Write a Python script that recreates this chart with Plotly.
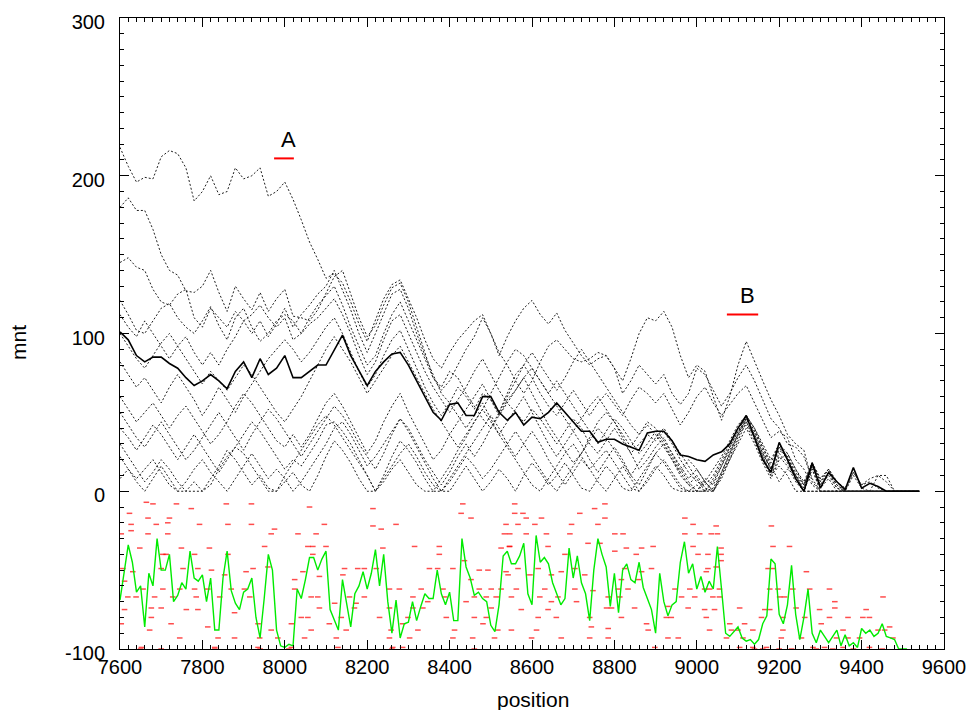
import plotly.graph_objects as go

# ---------------- data ----------------
positions = list(range(7600, 9541, 20))

mnt_1 = [218, 206, 196, 199, 198, 212, 216, 214, 205, 184,
         190, 200, 188, 190, 205, 198, 200, 205, 187, 190,
         196, 185, 172, 158, 147, 135, 138, 132, 120, 106,
         95, 108, 122, 131, 134, 122, 110, 96, 84, 78,
         88, 96, 102, 108, 112, 100, 86, 98, 108, 116,
         121, 112, 106, 113, 102, 94, 86, 80, 84, 86,
         78, 70, 84, 100, 110, 108, 114, 104, 86, 72,
         80, 76, 60, 45, 60, 80, 95, 82, 70, 58,
         48, 36, 30, 26, 6, 0, 0, 0, 0, 0,
         0, 0, 0, 0, 0, 0, 0, 0]
mnt_2 = [180, 186, 178, 178, 166, 150, 140, 137, 127, 126,
         130, 140, 126, 114, 130, 122, 115, 126, 114, 122,
         128, 111, 110, 108, 115, 126, 136, 140, 125, 110,
         98, 105, 118, 129, 132, 120, 104, 88, 72, 64,
         70, 80, 90, 98, 110, 100, 88, 80, 70, 62,
         70, 82, 92, 96, 90, 84, 82, 84, 88, 86,
         78, 62, 70, 80, 74, 68, 74, 62, 55, 62,
         78, 74, 64, 54, 62, 72, 80, 70, 58, 46,
         40, 30, 28, 22, 8, 0, 0, 0, 0, 0,
         0, 0, 0, 0, 0, 0, 0, 0]
mnt_3 = [145, 148, 142, 140, 128, 120, 118, 125, 128, 110,
         104, 116, 110, 104, 114, 108, 100, 108, 98, 106,
         116, 104, 112, 118, 125, 130, 140, 128, 115, 100,
         88, 100, 112, 125, 128, 116, 100, 86, 74, 62,
         56, 66, 60, 52, 62, 58, 50, 62, 74, 80,
         72, 62, 54, 48, 56, 64, 56, 48, 56, 62,
         55, 48, 58, 66, 62, 56, 62, 52, 42, 50,
         60, 66, 56, 48, 55, 62, 67, 56, 44, 34,
         38, 34, 20, 14, 4, 0, 0, 0, 0, 0,
         0, 0, 0, 0, 0, 0, 0, 0]
mnt_4 = [121, 112, 102, 100, 108, 116, 119, 110, 104, 100,
         108, 117, 105, 96, 110, 116, 104, 95, 100, 108,
         112, 108, 100, 106, 110, 116, 122, 112, 100, 86,
         74, 82, 96, 108, 112, 100, 88, 76, 66, 58,
         50, 58, 66, 76, 84, 74, 64, 56, 50, 44,
         52, 46, 38, 30, 38, 46, 40, 30, 24, 32,
         40, 32, 24, 30, 36, 32, 38, 30, 20, 12,
         6, 4, 10, 20, 30, 40, 46, 36, 24, 14,
         26, 22, 10, 4, 16, 4, 10, 2, 0, 0,
         0, 0, 0, 0, 0, 0, 0, 0]
mnt_5 = [112, 104, 98, 108, 100, 92, 84, 92, 98, 88,
         80, 88, 80, 90, 98, 108, 112, 118, 110, 104,
         110, 96, 100, 110, 118, 124, 130, 118, 104, 92,
         80, 86, 100, 112, 120, 108, 96, 84, 72, 66,
         76, 72, 62, 54, 46, 40, 48, 58, 64, 72,
         62, 52, 42, 34, 26, 18, 24, 34, 44, 50,
         44, 34, 24, 14, 20, 28, 34, 24, 14, 6,
         0, 8, 4, 16, 28, 38, 48, 38, 26, 14,
         28, 20, 10, 2, 18, 6, 12, 4, 0, 0,
         0, 0, 0, 0, 0, 0, 0, 0]
mnt_6 = [82, 74, 66, 72, 64, 56, 66, 74, 66, 58,
         48, 56, 66, 58, 50, 60, 68, 76, 84, 90,
         96, 90, 82, 88, 96, 104, 110, 100, 88, 76,
         66, 74, 86, 96, 102, 90, 78, 66, 56, 48,
         56, 48, 40, 48, 56, 46, 36, 44, 52, 60,
         50, 40, 30, 22, 30, 38, 30, 20, 12, 20,
         28, 20, 10, 4, 14, 24, 30, 22, 12, 4,
         0, 0, 8, 18, 28, 38, 44, 34, 22, 12,
         24, 18, 8, 0, 14, 2, 8, 0, 0, 0,
         0, 0, 0, 0, 0, 0, 0, 0]
mnt_7 = [60, 52, 44, 50, 56, 48, 40, 48, 54, 46,
         38, 30, 36, 44, 54, 62, 56, 48, 40, 32,
         28, 36, 28, 36, 46, 56, 62, 54, 44, 34,
         24, 32, 44, 54, 62, 50, 40, 30, 20, 26,
         36, 44, 52, 60, 68, 58, 48, 56, 64, 72,
         78, 70, 62, 54, 46, 38, 46, 54, 60, 52,
         44, 36, 28, 36, 44, 40, 32, 24, 16, 8,
         14, 6, 0, 10, 22, 34, 46, 38, 28, 18,
         30, 20, 10, 0, 16, 4, 12, 2, 0, 0,
         0, 0, 0, 0, 0, 0, 0, 0]
mnt_8 = [50, 42, 34, 28, 36, 44, 36, 28, 20, 26,
         34, 42, 50, 42, 34, 26, 36, 44, 52, 46,
         38, 30, 22, 30, 38, 46, 54, 48, 40, 30,
         22, 14, 24, 36, 46, 40, 30, 20, 12, 4,
         12, 22, 30, 22, 30, 40, 50, 60, 70, 80,
         88, 80, 72, 64, 72, 82, 90, 82, 74, 66,
         58, 50, 42, 36, 42, 36, 28, 20, 12, 20,
         14, 6, 0, 12, 24, 36, 46, 36, 24, 14,
         28, 22, 12, 4, 18, 6, 14, 6, 2, 12,
         4, 8, 10, 6, 0, 0, 0, 0]
mnt_9 = [40, 34, 26, 34, 42, 36, 28, 20, 28, 36,
         28, 20, 12, 20, 28, 36, 44, 38, 30, 22,
         14, 20, 16, 24, 32, 42, 44, 38, 30, 20,
         10, 0, 10, 22, 32, 26, 18, 8, 0, 0,
         8, 16, 24, 32, 40, 48, 40, 30, 22, 30,
         38, 30, 20, 12, 4, 12, 20, 14, 6, 0,
         8, 16, 8, 0, 6, 14, 20, 12, 4, 0,
         4, 0, 6, 16, 26, 36, 42, 32, 20, 10,
         22, 16, 6, 0, 14, 0, 0, 0, 0, 0,
         0, 0, 0, 0, 0, 0, 0, 0]
mnt_10 = [22, 14, 8, 14, 20, 12, 4, 0, 6, 14,
          20, 12, 6, 0, 8, 16, 24, 16, 8, 14,
          8, 0, 6, 14, 22, 30, 40, 44, 36, 26,
          16, 22, 30, 38, 46, 38, 28, 18, 8, 0,
          6, 14, 22, 16, 8, 14, 22, 30, 38, 30,
          22, 14, 6, 0, 8, 16, 24, 32, 40, 34,
          26, 18, 10, 18, 26, 34, 40, 32, 24, 16,
          8, 0, 0, 10, 20, 30, 40, 30, 18, 8,
          20, 24, 14, 4, 18, 8, 14, 4, 0, 10,
          2, 0, 10, 10, 0, 0, 0, 0]
mnt_11 = [8, 14, 6, 0, 8, 16, 8, 0, 0, 6,
          0, 8, 16, 26, 20, 12, 4, 10, 2, 0,
          10, 18, 26, 34, 42, 48, 42, 34, 26, 18,
          10, 0, 8, 16, 24, 30, 22, 12, 4, 0,
          0, 8, 16, 8, 0, 6, 14, 8, 0, 10,
          18, 12, 4, 10, 18, 10, 2, 0, 8, 16,
          10, 2, 0, 8, 16, 24, 18, 10, 2, 0,
          0, 6, 14, 22, 32, 42, 48, 40, 28, 16,
          6, 14, 10, 0, 0, 0, 0, 0, 0, 0,
          0, 0, 0, 0, 0, 0, 0, 0]
mnt_12 = [100, 92, 84, 78, 86, 94, 100, 92, 84, 76,
          68, 76, 70, 64, 72, 80, 74, 66, 58, 50,
          44, 52, 60, 70, 80, 90, 98, 90, 82, 72,
          62, 70, 78, 86, 92, 82, 72, 62, 52, 44,
          36, 28, 36, 44, 52, 62, 72, 82, 90, 86,
          78, 70, 62, 70, 62, 54, 46, 38, 30, 38,
          46, 40, 32, 24, 30, 38, 30, 20, 10, 4,
          10, 2, 0, 8, 20, 32, 44, 34, 22, 10,
          16, 10, 0, 0, 0, 0, 0, 0, 0, 0,
          0, 0, 0, 0, 0, 0, 0, 0]
mnt_13 = [30, 22, 14, 6, 12, 20, 14, 6, 0, 0,
          0, 4, 14, 22, 28, 24, 16, 8, 0, 0,
          6, 12, 4, 0, 10, 22, 32, 26, 18, 8,
          0, 0, 6, 14, 20, 12, 4, 0, 0, 8,
          16, 26, 34, 44, 52, 44, 36, 28, 20, 12,
          4, 0, 8, 16, 24, 30, 22, 14, 20, 26,
          18, 10, 2, 0, 8, 16, 10, 2, 0, 0,
          0, 0, 2, 12, 24, 36, 48, 40, 30, 20,
          30, 24, 14, 6, 18, 8, 14, 6, 0, 12,
          4, 6, 2, 0, 0, 0, 0, 0]

mnt_mean = [101, 96, 86, 82, 85, 85, 81, 78, 72, 67,
            70, 74, 70, 65, 76, 82, 72, 84, 74, 78,
            86, 72, 72, 76, 80, 80, 90, 99, 86, 76,
            67, 76, 82, 87, 88, 80, 70, 60, 50, 45,
            55, 56, 48, 48, 60, 60, 50, 45, 50, 42,
            47, 46, 50, 56, 50, 44, 38, 38, 31, 33,
            33, 30, 28, 26, 37, 38, 38, 32, 23, 22,
            20, 19, 23, 25, 30, 40, 48, 34, 20, 12,
            31, 20, 8, 0, 18, 2, 12, 6, 1, 15,
            2, 5, 3, 0, 0, 0, 0, 0]

green_pos = list(range(7600, 9511, 10))
green_val = [-69, -52, -34, -45, -64, -60, -86, -52, -60, -30,
             -50, -50, -40, -70, -66, -58, -62, -38, -55, -57,
             -53, -70, -55, -88, -88, -55, -38, -63, -71, -75,
             -64, -62, -55, -80, -93, -68, -40, -50, -88, -98,
             -99, -97, -98, -62, -68, -56, -42, -42, -50, -43,
             -38, -75, -81, -88, -56, -72, -86, -65, -60, -51,
             -62, -52, -37, -60, -40, -70, -90, -69, -93, -84,
             -83, -70, -82, -73, -65, -68, -68, -50, -65, -72,
             -64, -82, -82, -30, -48, -55, -66, -64, -68, -70,
             -85, -89, -72, -41, -38, -46, -46, -41, -33, -65,
             -72, -28, -45, -42, -46, -58, -65, -72, -68, -36,
             -55, -41, -58, -65, -82, -50, -30, -40, -48, -73,
             -52, -77, -50, -46, -56, -58, -45, -61, -68, -75,
             -90, -52, -70, -79, -72, -70, -45, -32, -52, -46,
             -62, -54, -64, -57, -62, -35, -62, -90, -92, -89,
             -86, -93, -95, -94, -97, -94, -84, -79, -43, -46,
             -78, -84, -72, -47, -78, -94, -80, -62, -90, -96,
             -88, -92, -96, -92, -88, -98, -91, -98, -96, -99,
             -87, -90, -88, -92, -90, -84, -92, -93, -94, -100,
             -100, -100]

red_pos = [7664, 7680, 7737, 7773, 7858, 7919, 8060, 7623, 7668, 7627,
           7688, 7720, 7716, 7793, 7862, 7919, 7975, 7603, 7627, 7668,
           7716, 7967, 8032, 7648, 7704, 7712, 7749, 7781, 7817, 7862,
           7951, 8056, 8068, 7607, 7631, 7700, 7753, 7789, 7822, 7854,
           7906, 7923, 7959, 8024, 8044, 7611, 7656, 7704, 7745, 7781,
           7813, 7870, 7902, 7619, 7639, 7684, 7728, 7785, 7842, 7915,
           8024, 8064, 7611, 7676, 7700, 7761, 7789, 7878, 8040, 8056,
           7603, 7676, 7724, 7813, 7935, 7967, 8016, 8064, 7672, 7745,
           7838, 7878, 7939, 7983, 8048, 7652, 7830, 7935, 8016,
           8214, 8432, 8428, 8452, 8096, 8214, 8270, 8537, 8234, 8076,
           8533, 8100, 8238, 8315, 8375, 8525, 8545, 8068, 8375, 8436,
           8145, 8177, 8193, 8222, 8351, 8371, 8408, 8472, 8493, 8537,
           8084, 8141, 8452, 8254, 8278, 8331, 8384, 8472, 8501, 8525,
           8080, 8157, 8193, 8311, 8388, 8460, 8489, 8513, 8121, 8173,
           8347, 8440, 8084, 8169, 8254, 8311, 8335, 8501, 8137, 8230,
           8299, 8392, 8460, 8489, 8108, 8286, 8481, 8149, 8258, 8323,
           8412, 8517, 8125, 8254, 8303, 8408, 8456, 8509, 8129, 8262, 8286,
           8558, 8777, 8752, 8558, 8578, 8716, 8586, 8623, 8777, 8607,
           8971, 8566, 8696, 8760, 8991, 8546, 8586, 8635, 8692, 8801,
           8821, 8971, 9007, 8736, 8765, 8866, 8546, 8829, 8894, 8991,
           8639, 8680, 8801, 8853, 9003, 8566, 8615, 8671, 8704, 8825,
           8866, 8890, 9027, 8542, 8595, 8647, 8728, 8817, 8858, 8562,
           8631, 8704, 8748, 8809, 8833, 8947, 8983, 8550, 8619, 8663,
           8785, 8813, 8963, 8995, 8647, 8708, 8793, 8930, 8574, 8639,
           8781, 8849, 8979, 8615, 8659, 8740, 8817, 8926, 8938, 8878,
           8744, 8882, 8550, 8611, 8785, 8671, 8740, 8785, 8930, 8955,
           8599, 8898,
           9047, 9035, 9050, 9181, 9185, 9225, 9027, 9059, 9059, 9059,
           9023, 9047, 9173, 9185, 9266, 9019, 9031, 9055, 9177, 9197,
           9233, 9274, 9322, 9039, 9055, 9201, 9213, 9335, 9452, 9019,
           9043, 9104, 9165, 9177, 9241, 9298, 9335, 9411, 9023, 9157,
           9209, 9262, 9322, 9367, 9403, 9419, 9031, 9136, 9209, 9302,
           9355, 9440, 9456, 9468, 9084, 9100, 9080, 9116, 9072, 9112,
           9205, 9254, 9339, 9367, 9476, 9395, 9136, 9282, 9104, 9169,
           9355, 9419, 9310,
           7650, 7700, 7830, 7940, 8010, 8260, 8460, 9140, 9160, 9200,
           9230, 9290, 9330, 9380, 9450]
red_val = [-7, -8, -8, -11, -8, -8, -10, -14, -17, -21,
           -21, -17, -20, -21, -21, -21, -24, -27, -25, -27,
           -27, -27, -27, -36, -40, -40, -36, -40, -36, -40,
           -35, -35, -35, -49, -51, -49, -49, -49, -50, -53,
           -51, -49, -48, -56, -51, -57, -62, -62, -62, -62,
           -62, -62, -62, -67, -67, -67, -67, -67, -67, -67,
           -62, -67, -75, -74, -74, -75, -75, -77, -80, -80,
           -84, -80, -84, -86, -84, -88, -84, -88, -88, -93,
           -93, -93, -93, -93, -93, -99, -99, -99, -99,
           -11, -8, -14, -17, -21, -22, -21, -21, -24, -27,
           -27, -35, -36, -35, -35, -36, -35, -40, -40, -44,
           -49, -49, -49, -49, -49, -49, -49, -50, -50, -51,
           -54, -53, -56, -62, -62, -62, -62, -62, -62, -62,
           -67, -67, -67, -67, -67, -67, -67, -67, -71, -71,
           -70, -70, -74, -74, -74, -74, -74, -74, -80, -80,
           -80, -80, -80, -80, -84, -84, -84, -88, -88, -88,
           -88, -88, -93, -93, -93, -93, -93, -93, -99, -99, -99,
           -8, -8, -11, -14, -14, -14, -17, -17, -17, -21,
           -17, -21, -21, -21, -21, -27, -27, -27, -27, -27,
           -27, -27, -27, -33, -33, -36, -35, -36, -35, -35,
           -35, -40, -38, -40, -40, -49, -49, -51, -49, -49,
           -51, -49, -49, -53, -53, -53, -53, -56, -56, -62,
           -62, -62, -63, -62, -62, -62, -62, -67, -67, -67,
           -67, -67, -67, -67, -70, -70, -74, -73, -75, -75,
           -74, -74, -74, -80, -80, -80, -80, -80, -80, -84,
           -86, -88, -88, -88, -87, -93, -93, -93, -93, -93,
           -93, -99,
           -22, -27, -27, -22, -35, -35, -40, -36, -40, -44,
           -51, -48, -49, -49, -51, -62, -62, -62, -62, -62,
           -62, -62, -62, -67, -67, -67, -67, -70, -67, -75,
           -75, -74, -75, -75, -74, -75, -74, -75, -80, -80,
           -80, -80, -80, -80, -80, -80, -88, -88, -88, -84,
           -88, -88, -88, -86, -88, -88, -84, -84, -93, -93,
           -93, -93, -93, -93, -93, -93, -99, -99, -99, -99,
           -99, -99, -99,
           -100, -100, -100, -100, -100, -100, -100, -100, -100, -100,
           -100, -100, -100, -100, -100]

region_labels = ["A", "B"]
region_start = [7974, 9073]
region_end = [8022, 9149]
region_level = [211, 112]

x_ticks = [7600, 7800, 8000, 8200, 8400, 8600, 8800, 9000, 9200, 9400, 9600]
x_tick_text = ["7600", "7800", "8000", "8200", "8400", "8600", "8800", "9000", "9200", "9400", "9600"]
y_ticks = [-100, 0, 100, 200, 300]
y_tick_text = ["-100", "0", "100", "200", "300"]

# ---------------- figure ----------------
FONT = "Liberation Sans, Arial, sans-serif"
fig = go.Figure()

dotted_series = [mnt_1, mnt_2, mnt_3, mnt_4, mnt_5, mnt_6, mnt_7,
                 mnt_8, mnt_9, mnt_10, mnt_11, mnt_12, mnt_13]
for s in dotted_series:
    fig.add_trace(go.Scatter(x=positions, y=s, mode="lines",
                             line=dict(color="rgb(30,30,30)", width=1, dash="2px,2px"),
                             hoverinfo="skip"))

fig.add_trace(go.Scatter(x=positions, y=mnt_mean, mode="lines",
                         line=dict(color="black", width=1.6)))

fig.add_trace(go.Scatter(x=red_pos, y=red_val, mode="markers",
                         marker=dict(symbol="line-ew", size=4,
                                     line=dict(color="rgba(255,0,0,0.7)", width=1.5))))

fig.add_trace(go.Scatter(x=green_pos, y=green_val, mode="lines",
                         line=dict(color="rgb(0,235,0)", width=1.4)))

for lab, x0, x1, lev in zip(region_labels, region_start, region_end, region_level):
    fig.add_trace(go.Scatter(x=[x0, x1], y=[lev, lev], mode="lines",
                             line=dict(color="red", width=2)))
    fig.add_annotation(x=(x0 + x1) / 2 + 12, y=lev + 3, text=lab, showarrow=False,
                       yanchor="bottom", xanchor="center",
                       font=dict(family=FONT, size=22, color="black"))

axis_common = dict(showline=True, linecolor="black", linewidth=1, mirror="allticks",
                   ticks="inside", ticklen=9, tickcolor="black", tickwidth=1,
                   showgrid=False, zeroline=False, automargin=False,
                   ticklabeloverflow="allow",
                   tickfont=dict(family=FONT, size=20, color="black"))

fig.update_xaxes(range=[7600, 9600], tickvals=x_ticks, ticktext=x_tick_text,
                 minor=dict(dtick=20, tick0=7600, ticks="inside", ticklen=4, tickcolor="black", showgrid=False),
                 **axis_common)
fig.update_yaxes(range=[-100, 300], tickvals=y_ticks, ticktext=y_tick_text,
                 minor=dict(dtick=10, tick0=0, ticks="inside", ticklen=4, tickcolor="black", showgrid=False),
                 ticklabelstandoff=10, ticklabelshift=4,
                 **axis_common)

# plot area in page pixels: x 120..944, y 18..649 (page has 8px body margin)
fig.add_annotation(xref="paper", yref="paper", x=(18 - 120) / 824, y=(649 - 343) / 631,
                   xanchor="center", yanchor="middle",
                   text="mnt", textangle=-90, showarrow=False,
                   font=dict(family=FONT, size=21, color="black"))
fig.add_annotation(xref="paper", yref="paper", x=(533 - 120) / 824, y=(649 - 699) / 631,
                   xanchor="center", yanchor="middle",
                   text="position", showarrow=False,
                   font=dict(family=FONT, size=21, color="black"))

fig.update_layout(width=967, height=702, showlegend=False,
                  plot_bgcolor="white", paper_bgcolor="white",
                  margin=dict(l=112, r=31, t=10, b=61))

fig.write_html("out.html")
